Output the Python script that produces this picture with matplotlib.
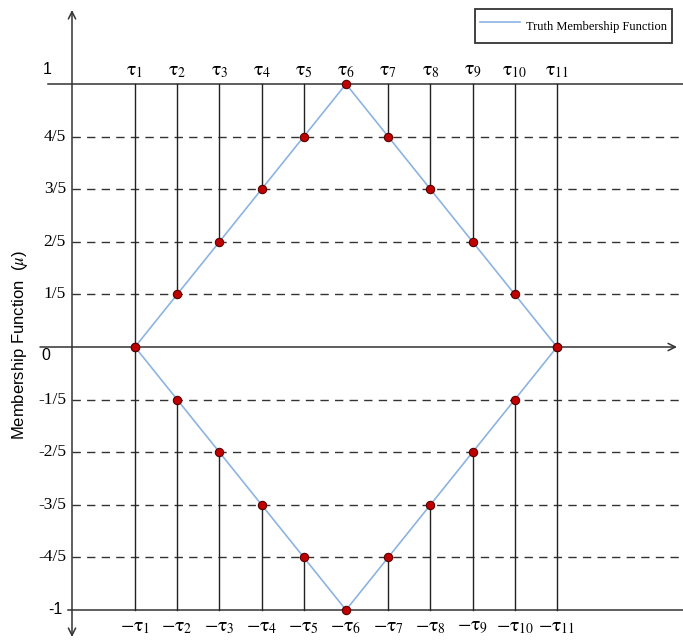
import matplotlib
matplotlib.use('Agg')
import matplotlib.pyplot as plt
from matplotlib.lines import Line2D

plt.rcParams['mathtext.fontset'] = 'stix'

# data
tau = [1, 2, 3, 4, 5, 6, 7, 8, 9, 10, 11]
truth = [0, 1/5, 2/5, 3/5, 4/5, 1, 4/5, 3/5, 2/5, 1/5, 0]
neg_truth = [-v for v in truth]
top_labels = [r'$\mathrm{\tau}_{%d}$' % i for i in tau]
bottom_labels = [r'$-\mathrm{\tau}_{%d}$' % i for i in tau]
grid_levels = [4/5, 3/5, 2/5, 1/5, -1/5, -2/5, -3/5, -4/5]
grid_names = ['4/5', '3/5', '2/5', '1/5', '-1/5', '-2/5', '-3/5', '-4/5']

W, H = 683, 641
fig = plt.figure(figsize=(W / 100, H / 100), dpi=100)
ax = fig.add_axes([0, 0, 1, 1])
ax.axis('off')

# pixel -> data mapping used only for frame limits
px_per_x = (557 - 135) / 10
px_per_y = 263
def dx(px):
    return 1 + (px - 135) / px_per_x
def dy(py):
    return (347 - py) / px_per_y

ax.set_xlim(dx(0), dx(W))
ax.set_ylim(dy(H), dy(0))

dark = '#333333'
yaxis_x = dx(72)
right = dx(W)

# axes and frame lines
ax.annotate('', xy=(yaxis_x, dy(10)), xytext=(yaxis_x, dy(637)),
            arrowprops=dict(arrowstyle='<->', color=dark, lw=1.1,
                            mutation_scale=13, shrinkA=0, shrinkB=0))
ax.annotate('', xy=(dx(677), 0), xytext=(dx(40), 0),
            arrowprops=dict(arrowstyle='->', color=dark, lw=1.1,
                            mutation_scale=13, shrinkA=0, shrinkB=0))
ax.plot([dx(48), right], [1, 1], color=dark, lw=1.1)
ax.plot([dx(68), right], [-1, -1], color=dark, lw=1.1)

for lev in grid_levels:
    ax.plot([yaxis_x, right], [lev, lev], color=dark, lw=1.0,
            dashes=(6, 4.5))

# verticals
for x, u, l in zip(tau, truth, neg_truth):
    ax.plot([x, x], [1, u], color='#222222', lw=1.0)
    ax.plot([x, x], [l, -1], color='#222222', lw=1.0)

# membership function
ax.plot(tau, truth, color='#8db3e2', lw=1.2, zorder=4)
ax.plot(tau, neg_truth, color='#8db3e2', lw=1.2, zorder=4)
ax.plot(tau, truth, 'o', ms=6, mfc='#c00000', mec='#5a0000', mew=0.8, zorder=5)
ax.plot(tau, neg_truth, 'o', ms=6, mfc='#c00000', mec='#5a0000', mew=0.8, zorder=5)

# tau labels
for x, t, b in zip(tau, top_labels, bottom_labels):
    ax.text(x, dy(71), t, ha='center', va='center', fontsize=14)
    ax.text(x, dy(626), b, ha='center', va='center', fontsize=14)

# y labels
ax.text(dx(47), dy(69), '1', ha='center', va='center', fontsize=11.5,
        family='Liberation Sans')
ax.text(dx(46), dy(356), '0', ha='center', va='center', fontsize=11.5,
        family='Liberation Sans')
ax.text(dx(63), dy(609), '-1', ha='right', va='center', fontsize=11.5,
        family='Liberation Sans')
for lev, name in zip(grid_levels, grid_names):
    ax.text(dx(66), lev, name, ha='right', va='center', fontsize=12.5,
            family='Liberation Serif')

fig.text(20 / W, 1 - 345 / H, r'Membership Function  ($\mu$)', rotation=90,
         ha='center', va='center', fontsize=12, family='Liberation Sans')

# legend
handle = Line2D([], [], color='#8db3e2', lw=1.2)
leg = ax.legend([handle], ['Truth Membership Function'], loc='upper left',
                bbox_to_anchor=(475 / W, 1 - 9 / H),
                bbox_transform=fig.transFigure, borderaxespad=0,
                prop={'family': 'Liberation Serif', 'size': 9},
                handlelength=3.2, handleheight=2.6, borderpad=0.4,
                handletextpad=0.5, fancybox=False, framealpha=1)
leg.get_frame().set_edgecolor(dark)
leg.get_frame().set_linewidth(1.3)

fig.savefig('out.png', dpi=100)
